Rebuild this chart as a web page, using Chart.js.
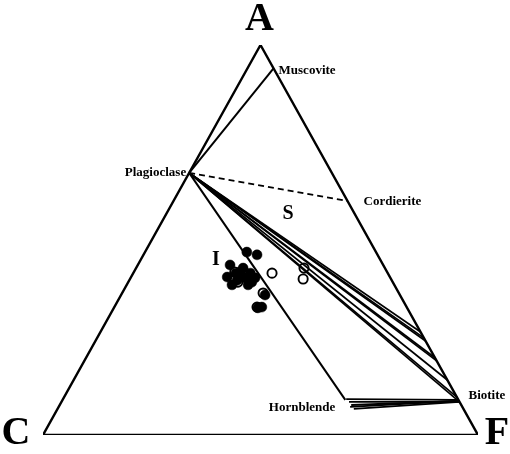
<!DOCTYPE html>
<html>
<head>
<meta charset="utf-8">
<script src="https://cdn.jsdelivr.net/npm/chart.js@4.4.1/dist/chart.umd.min.js"></script>
<style>
    body { margin: 0; background: #fff; }
</style>
</head>
<body>
<canvas id="acf" width="510" height="454"></canvas>
<script>
// Diagramme ACF : chaque point est donné par A et F (C = 1 - A - F)

// Minéraux
let mineralNames = ['Muscovite', 'Plagioclase', 'Cordierite', 'Biotite', 'Hornblende'];
let mineralA = [0.94, 0.672, 0.60, 0.085, 0.09];
let mineralF = [0.06, 0.0, 0.40, 0.915, 0.65];

// Lignes de conjugaison plagioclase - biotite (extrémités sur le bord A-F)
let tieBiotiteA = [0.264, 0.249, 0.241, 0.198, 0.190, 0.141, 0.097, 0.085];

// Faisceau hornblende - biotite
let fanHornA = [0.092, 0.085, 0.077, 0.067, 0.072];
let fanHornF = [0.651, 0.661, 0.670, 0.681, 0.670];
let fanBioA = [0.090, 0.085, 0.087, 0.085, 0.088];
let fanBioF = [0.911, 0.915, 0.913, 0.915, 0.912];

// Granites type I (points pleins)
let granIA = [0.469, 0.462, 0.436, 0.405, 0.385, 0.418, 0.403, 0.415, 0.392, 0.403, 0.385, 0.397, 0.359, 0.328, 0.326, 0.428, 0.415];
let granIF = [0.234, 0.261, 0.212, 0.221, 0.242, 0.244, 0.263, 0.269, 0.284, 0.286, 0.279, 0.248, 0.331, 0.339, 0.331, 0.246, 0.236];

// Granites type S (points vides)
let granSA = [0.415, 0.418, 0.364, 0.328, 0.392, 0.428, 0.400];
let granSF = [0.319, 0.232, 0.324, 0.328, 0.252, 0.386, 0.398];

// Noms des champs
let fieldNames = ['S', 'I'];
let fieldA = [0.567, 0.449];
let fieldF = [0.280, 0.173];

// conversion A,F -> x,y
function acf(a, f) {
    return { x: f + a / 2, y: a };
}

function segment(p1, p2, width, dash) {
    return {
        type: 'scatter',
        data: [p1, p2],
        showLine: true,
        borderColor: '#000',
        borderWidth: width,
        borderDash: dash || [],
        pointRadius: 0,
        pointHoverRadius: 0
    };
}

let plag = acf(mineralA[1], mineralF[1]);
let datasets = [];

// Triangle
datasets.push({
    type: 'scatter',
    data: [acf(0, 0), acf(1, 0), acf(0, 1), acf(0, 0)],
    showLine: true,
    borderColor: '#000',
    borderWidth: 2.4,
    pointRadius: 0
});

// Plagioclase - muscovite, plagioclase - hornblende, plagioclase - cordierite
datasets.push(segment(plag, acf(mineralA[0], mineralF[0]), 2));
datasets.push(segment(plag, acf(mineralA[4], mineralF[4]), 2));
datasets.push(segment(plag, acf(mineralA[2], mineralF[2]), 1.8, [6, 4]));

tieBiotiteA.forEach(a => datasets.push(segment(plag, acf(a, 1 - a), 1.7)));

for (let i = 0; i < fanHornA.length; i++) {
    datasets.push(segment(acf(fanHornA[i], fanHornF[i]), acf(fanBioA[i], fanBioF[i]), 1.9));
}

datasets.push({
    type: 'scatter',
    data: granIA.map((a, i) => acf(a, granIF[i])),
    pointRadius: 5,
    pointBackgroundColor: '#000',
    pointBorderColor: '#000',
    pointBorderWidth: 0.5
});

datasets.push({
    type: 'scatter',
    data: granSA.map((a, i) => acf(a, granSF[i])),
    pointRadius: 4.6,
    pointBackgroundColor: '#fff',
    pointBorderColor: '#000',
    pointBorderWidth: 1.9
});

// Textes du diagramme
let labelPlugin = {
    id: 'labels',
    beforeDraw(chart) {
        let ctx = chart.ctx;
        ctx.save();
        ctx.fillStyle = '#fff';
        ctx.fillRect(0, 0, chart.width, chart.height);
        ctx.restore();
    },
    afterDatasetsDraw(chart) {
        let ctx = chart.ctx;
        let sx = chart.scales.x, sy = chart.scales.y;
        let px = p => [sx.getPixelForValue(p.x), sy.getPixelForValue(p.y)];
        ctx.save();
        ctx.fillStyle = '#000';
        ctx.textBaseline = 'middle';

        // sommets
        ctx.font = 'bold 40px "Liberation Serif"';
        ctx.textAlign = 'center';
        let a = px(acf(1, 0)), c = px(acf(0, 0)), f = px(acf(0, 1));
        ctx.fillText('A', a[0] - 1, a[1] - 25);
        ctx.fillText('C', c[0] - 27, c[1] - 1);
        ctx.fillText('F', f[0] + 19, f[1] - 1);

        // minéraux
        let offsets = [[5, 2, 'left'], [-3, 0, 'right'], [16, 1, 'left'], [9, -6, 'left'], [-10, 8, 'right']];
        ctx.font = 'bold 13px "Liberation Serif"';
        mineralNames.forEach((name, i) => {
            let p = px(acf(mineralA[i], mineralF[i]));
            ctx.textAlign = offsets[i][2];
            ctx.fillText(name, p[0] + offsets[i][0], p[1] + offsets[i][1]);
        });

        // champs
        ctx.font = 'bold 20px "Liberation Serif"';
        ctx.textAlign = 'center';
        fieldNames.forEach((name, i) => {
            let p = px(acf(fieldA[i], fieldF[i]));
            ctx.fillText(name, p[0], p[1]);
        });
        ctx.restore();
    }
};

let acfChart = new Chart(document.getElementById('acf').getContext('2d'), {
    type: 'scatter',
    data: { datasets: datasets },
    options: {
        responsive: false,
        animation: false,
        events: [],
        layout: { padding: { left: 43, right: 32, top: 45, bottom: 19 } },
        scales: {
            x: { display: false, min: 0, max: 1 },
            y: { display: false, min: 0, max: 1 }
        },
        plugins: {
            legend: { display: false },
            tooltip: { enabled: false }
        }
    },
    plugins: [labelPlugin]
});
</script>
</body>
</html>
